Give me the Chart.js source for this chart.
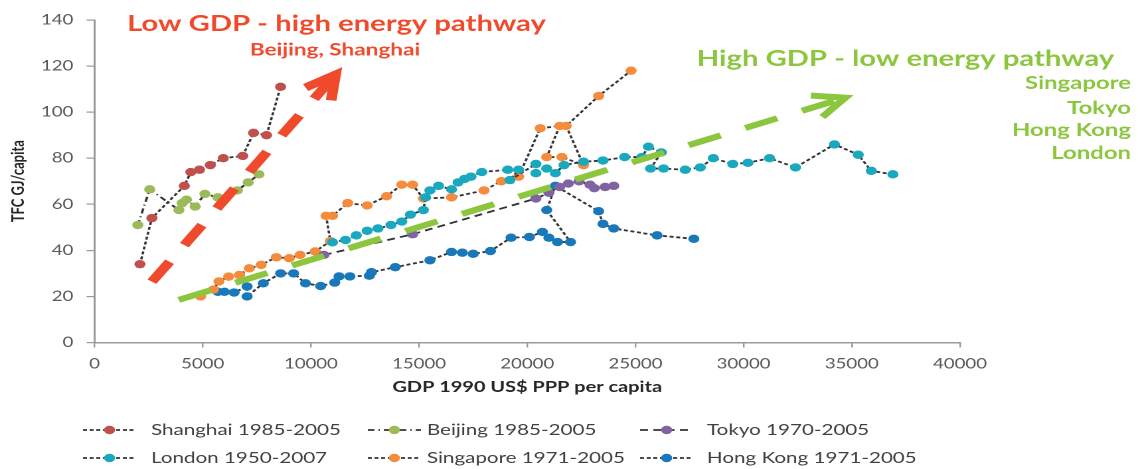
<!DOCTYPE html>
<html>
<head>
<meta charset="utf-8">
<script src="https://cdn.jsdelivr.net/npm/chart.js@4.4.0/dist/chart.umd.min.js"></script>
<style>
  html, body { margin: 0; padding: 0; background: #fff; overflow: hidden; }
  /* the reference is stretched sideways, so draw narrow and stretch */
  #wrap { position: absolute; left: 0; top: 0; width: 860px; height: 469px;
          transform: scaleX(1.32791); transform-origin: 0 0; }
</style>
</head>
<body>
<div id="wrap"><canvas id="tfcChart"></canvas></div>
<script>
  // GDP 1990 US$ PPP per capita (x) and TFC GJ/capita (y)
  const shanghaiX = [2100, 2650, 4150, 4450, 4850, 5350, 5950, 6850, 7350, 7950, 8600];
  const shanghaiY = [34, 54, 68, 74, 75, 77, 80, 81, 91, 90, 111];

  const beijingX = [2000, 2550, 3900, 4050, 4250, 4650, 5100, 5700, 6600, 7100, 7600];
  const beijingY = [51, 66.5, 57.5, 60.5, 62, 59, 64.5, 63, 66, 69.5, 73];

  const tokyoX = [10600, 14700, 20400, 21000, 21500, 21900, 22400, 22900, 23100, 23600, 24000];
  const tokyoY = [38, 47, 62.5, 65, 67.5, 69, 70, 68.5, 67, 67.5, 68];

  const londonX = [11000, 11600, 12100, 12600, 13100, 13700, 14200, 14600, 15200, 15300, 15500, 15900,
                   16500, 16800, 17100, 17400, 17900, 19100, 19600, 19200, 20400, 20400, 20900, 21300,
                   21700, 22600, 23500, 24500, 25300, 25600, 26200, 25700, 26300, 27300, 28000, 28600,
                   29500, 30200, 31200, 32400, 34200, 35300, 35900, 36900];
  const londonY = [43.5, 44.5, 46.5, 48.5, 49.5, 51, 52.5, 55.5, 57.5, 63, 66, 68,
                   66.5, 69.5, 71, 72, 74, 75, 75, 70.5, 77.5, 73.5, 75.5, 73.5,
                   77, 78.5, 79, 80.5, 80.5, 85, 82.5, 75.5, 75.5, 75, 76, 80,
                   77.5, 78, 80, 76, 86, 81.5, 74.5, 73];

  const singaporeX = [4900, 5500, 5750, 6200, 6700, 7150, 7700, 8400, 9000, 9500, 10200, 10900,
                      10700, 11000, 11700, 12600, 13500, 14200, 14700, 15200, 16500, 18000, 18800,
                      19600, 20600, 21500, 20900, 21600, 22600, 21800, 23300, 24800];
  const singaporeY = [20, 23, 26.5, 28.6, 29.3, 32.2, 33.7, 37, 36.6, 38, 39.5, 44,
                      55, 55, 60.5, 59.5, 63.5, 68.5, 68.5, 62.5, 63, 66, 70,
                      72, 93, 94, 80.5, 80.5, 77, 94, 107, 118];

  const hongKongX = [5700, 6000, 6450, 7050, 7050, 7800, 8600, 9200, 9750, 10450, 11100, 11300,
                     11800, 12700, 12800, 13900, 15500, 16500, 17000, 17500, 18300, 19250, 20100,
                     20700, 21000, 21400, 22000, 20900, 21300, 23300, 23500, 24000, 26000, 27700];
  const hongKongY = [22, 22, 21.7, 24.3, 20, 25.7, 30, 30, 25.7, 24.5, 26, 28.7,
                     28.7, 29, 30.5, 32.7, 35.7, 39.3, 39, 38.5, 39.7, 45.5, 45.8,
                     48, 45.5, 43.6, 43.6, 57.5, 68, 57, 51.5, 49.5, 46.5, 45];

  const xTicks = [0, 5000, 10000, 15000, 20000, 25000, 30000, 35000, 40000];
  const yTicks = [0, 20, 40, 60, 80, 100, 120, 140];

  // pathway arrows: [x0, y0, x1, y1] in data units
  const redArrow = [2650, 26.4, 11140, 116.3];
  const greenArrow = [3890, 18.5, 34700, 106.3];

  const toPoints = (xs, ys) => xs.map((v, i) => ({ x: v, y: ys[i] }));

  function series(label, xs, ys, color, dash) {
    return {
      label: label,
      data: toPoints(xs, ys),
      borderColor: '#333333',
      borderWidth: 1.8,
      borderDash: dash,
      pointRadius: 4.2,
      pointBorderWidth: 0,
      pointBackgroundColor: color,
      backgroundColor: color,
      fill: false,
      tension: 0
    };
  }

  const datasets = [
    series('Shanghai 1985-2005', shanghaiX, shanghaiY, '#C0504D', [3, 2]),
    series('Beijing 1985-2005', beijingX, beijingY, '#9BBB59', [5, 3, 1, 3]),
    series('Tokyo 1970-2005', tokyoX, tokyoY, '#8064A2', [6, 4]),
    series('London 1950-2007', londonX, londonY, '#1AA8BF', [3, 2]),
    series('Singapore 1971-2005', singaporeX, singaporeY, '#F58B3C', [3, 2]),
    series('Hong Kong 1971-2005', hongKongX, hongKongY, '#1878BA', [3, 2])
  ];

  function drawArrow(ctx, xs, ys, a, color, width, dash) {
    const x0 = xs.getPixelForValue(a[0]), y0 = ys.getPixelForValue(a[1]);
    const x1 = xs.getPixelForValue(a[2]), y1 = ys.getPixelForValue(a[3]);
    ctx.save();
    ctx.strokeStyle = color;
    ctx.lineWidth = width;
    ctx.lineCap = 'butt';
    ctx.setLineDash(dash);
    ctx.beginPath();
    ctx.moveTo(x0, y0);
    ctx.lineTo(x1, y1);
    ctx.stroke();
    const back = Math.atan2(y0 - y1, x0 - x1);
    const len = 26, spread = 0.46;
    ctx.setLineDash([]);
    ctx.lineJoin = 'miter';
    ctx.beginPath();
    ctx.moveTo(x1 + Math.cos(back + spread) * len, y1 + Math.sin(back + spread) * len);
    ctx.lineTo(x1, y1);
    ctx.lineTo(x1 + Math.cos(back - spread) * len, y1 + Math.sin(back - spread) * len);
    ctx.stroke();
    ctx.restore();
  }

  const overlay = {
    id: 'overlay',
    afterDatasetsDraw(chart) {
      const { ctx, scales } = chart;
      drawArrow(ctx, scales.x, scales.y, redArrow, '#F04A2C', 8, [24, 20]);
      drawArrow(ctx, scales.x, scales.y, greenArrow, '#8CC63F', 6, [26, 20]);
    },
    afterDraw(chart) {
      const { ctx, chartArea } = chart;
      ctx.save();
      ctx.textBaseline = 'middle';

      // annotations
      ctx.textAlign = 'center';
      ctx.fillStyle = '#F04A2C';
      ctx.font = 'bold 22px Lato';
      ctx.fillText('Low GDP - high energy pathway', 253.4, 24);
      ctx.font = 'bold 17px Lato';
      ctx.fillText('Beijing, Shanghai', 252.3, 50);

      ctx.fillStyle = '#8CC63F';
      ctx.font = 'bold 22px Lato';
      ctx.fillText('High GDP - low energy pathway', 681.9, 59);
      ctx.textAlign = 'right';
      ctx.font = 'bold 18px Lato';
      ['Singapore', 'Tokyo', 'Hong Kong', 'London'].forEach((t, i) => {
        ctx.fillText(t, 851.7, [83, 108, 130, 153][i]);
      });

      // axis titles
      ctx.fillStyle = '#262626';
      ctx.textAlign = 'center';
      ctx.font = 'bold 15px Lato';
      ctx.fillText('GDP 1990 US$ PPP per capita', (chartArea.left + chartArea.right) / 2, 387);
      ctx.save();
      ctx.translate(13.6, (chartArea.top + chartArea.bottom) / 2);
      ctx.rotate(-Math.PI / 2);
      ctx.font = 'bold 13px Lato';
      ctx.fillText('TFC GJ/capita', 0, 0);
      ctx.restore();

      // legend, two rows of three
      const cols = [[62.5, 113.7], [277, 321.5], [482, 532.4]];
      const rows = [430, 458];
      ctx.font = '15.5px Lato';
      ctx.textAlign = 'left';
      chart.data.datasets.forEach((ds, i) => {
        const c = cols[i % 3], yy = rows[Math.floor(i / 3)];
        ctx.strokeStyle = '#333333';
        ctx.lineWidth = 1.8;
        ctx.setLineDash(ds.borderDash);
        ctx.beginPath();
        ctx.moveTo(c[0], yy);
        ctx.lineTo(c[0] + 40, yy);
        ctx.stroke();
        ctx.setLineDash([]);
        ctx.fillStyle = ds.pointBackgroundColor;
        ctx.beginPath();
        ctx.arc(c[0] + 20, yy, 4.2, 0, Math.PI * 2);
        ctx.fill();
        ctx.fillStyle = '#404040';
        ctx.fillText(ds.label, c[1], yy);
      });
      ctx.restore();
    }
  };

  function drawChart() {
    const ctx = document.getElementById('tfcChart').getContext('2d');
    new Chart(ctx, {
      type: 'line',
      data: { datasets: datasets },
      plugins: [overlay],
      options: {
        responsive: true,
        maintainAspectRatio: false,
        animation: false,
        devicePixelRatio: 2,
        layout: { padding: { left: 0, top: 20, right: 137.1, bottom: 66.5 } },
        plugins: { legend: { display: false }, tooltip: { enabled: false } },
        scales: {
          x: {
            type: 'linear',
            min: 0, max: 40000,
            afterBuildTicks: s => { s.ticks = xTicks.map(v => ({ value: v })); },
            afterFit: s => { s.height = 60; },
            grid: { drawOnChartArea: false, drawTicks: true, tickLength: 5, color: '#9a9a9a', lineWidth: 1.2 },
            border: { color: '#9a9a9a', width: 1.5 },
            ticks: { padding: 8, color: '#595959', font: { family: 'Lato', size: 14 }, maxRotation: 0,
                     callback: v => String(v) }
          },
          y: {
            min: 0, max: 140,
            afterBuildTicks: s => { s.ticks = yTicks.map(v => ({ value: v })); },
            afterFit: s => { s.width = 71.2; },
            grid: { drawOnChartArea: false, drawTicks: true, tickLength: 6, color: '#9a9a9a', lineWidth: 1.2 },
            border: { color: '#9a9a9a', width: 1.5 },
            ticks: { padding: 10, color: '#595959', font: { family: 'Lato', size: 14 },
                     callback: v => String(v) }
          }
        }
      }
    });
  }

  window.onload = drawChart;
</script>
</body>
</html>
